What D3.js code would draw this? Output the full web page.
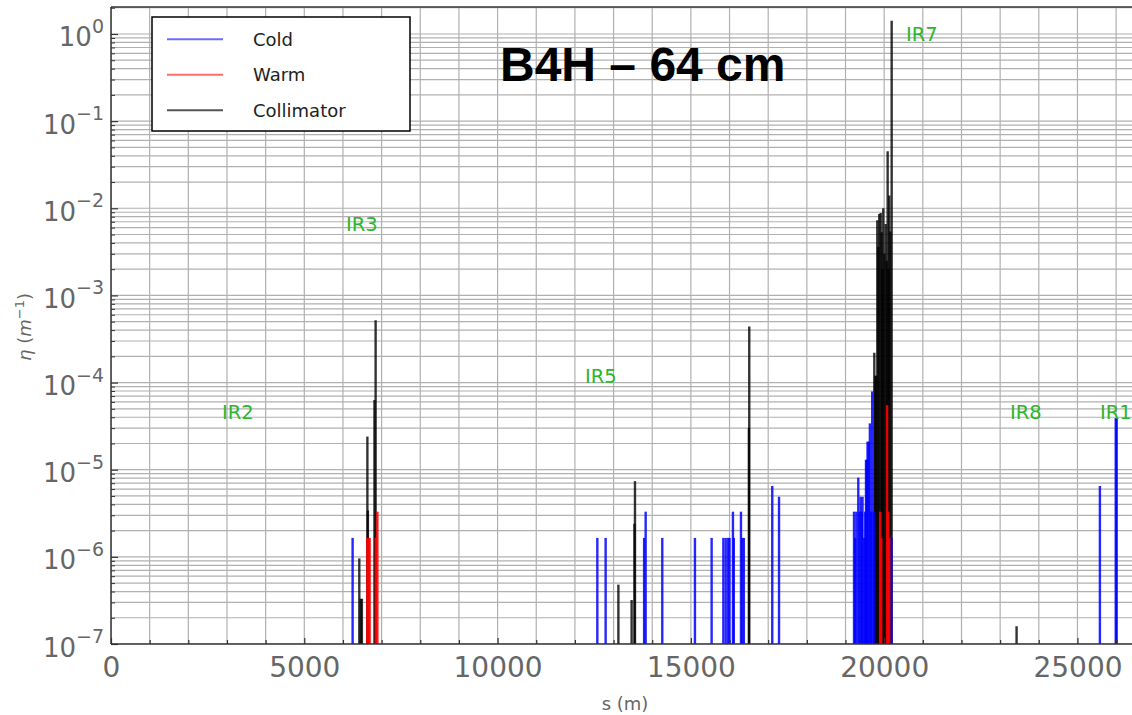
<!DOCTYPE html>
<html><head><meta charset="utf-8">
<script src="https://cdn.jsdelivr.net/npm/d3@7"></script>
<style>body{margin:0;background:#fff}svg{display:block}</style>
</head><body><svg id="c" width="1132" height="715"></svg>
<script>
// ---------------- data ----------------
const titleText = "B4H – 64 cm";
const legendItems = ["Cold", "Warm", "Collimator"];
const xMajorTicks = [0, 5000, 10000, 15000, 20000, 25000];
const yMajorExponents = [-7, -6, -5, -4, -3, -2, -1, 0];

// [s (m), eta (1/m)]
const coldBars = [
  [6250, 1.65e-6],
  [12580, 1.65e-6], [12795, 1.65e-6], [13790, 1.65e-6], [13830, 3.3e-6], [14260, 1.65e-6],
  [15105, 1.65e-6], [15537, 1.65e-6], [15840, 1.65e-6], [15900, 1.65e-6], [15960, 1.65e-6],
  [16000, 1.65e-6], [16088, 3.3e-6], [16110, 1.65e-6], [16296, 3.3e-6], [16330, 1.65e-6],
  [16370, 1.65e-6], [17105, 6.5e-6], [17280, 4.9e-6],
  [19220, 3.3e-6], [19250, 1.65e-6], [19280, 3.3e-6], [19330, 8.1e-6], [19360, 3.3e-6],
  [19390, 4.9e-6], [19420, 3.3e-6], [19440, 4.9e-6], [19480, 1.65e-6], [19510, 3.3e-6],
  [19530, 1.3e-5], [19550, 1.3e-5], [19570, 2.1e-5], [19600, 2.1e-5], [19630, 3.4e-5],
  [19660, 3.3e-6], [19690, 7.9e-5], [19730, 3.3e-6], [20190, 1.65e-6],
  [25580, 6.5e-6], [25990, 3.9e-5], [26015, 3.9e-5]
];
const warmBars = [
  [6630, 1.65e-6], [6660, 1.65e-6], [6690, 1.65e-6], [6850, 1.65e-6], [6890, 3.3e-6],
  [19895, 3.3e-6], [19925, 1.65e-6], [20075, 5.5e-5], [20105, 3.3e-6], [20130, 1.65e-6]
];
const collimatorBars = [
  [6423, 9.6e-7], [6460, 3.3e-7], [6490, 3.3e-7], [6632, 2.4e-5], [6645, 3.4e-6],
  [6815, 6.3e-5], [6845, 5.2e-4],
  [13125, 4.8e-7], [13467, 3.2e-7], [13540, 2.4e-6], [13554, 7.4e-6],
  [16500, 3.0e-5], [16510, 4.4e-4],
  [19745, 2.2e-4], [19770, 1.2e-4], [19795, 1.2e-4], [19822, 7.3e-3], [19850, 3.6e-3],
  [19873, 8.6e-3], [19910, 8.8e-3], [19935, 5.3e-3], [19955, 2.0e-3], [19977, 1.0e-2],
  [20005, 3.0e-3], [20039, 6.6e-3], [20065, 2.5e-3], [20090, 4.5e-2], [20112, 2.0e-3],
  [20132, 1.4e-2], [20160, 5.4e-3], [20194, 1.42],
  [23425, 1.6e-7]
];
const irLabels = [
  {name: "IR2", s: 2871, eta: 3.8e-5},
  {name: "IR3", s: 6078, eta: 5.5e-3},
  {name: "IR5", s: 12260, eta: 1.0e-4},
  {name: "IR7", s: 20565, eta: 0.82},
  {name: "IR8", s: 23254, eta: 3.8e-5},
  {name: "IR1", s: 25582, eta: 3.8e-5}
];

// ---------------- layout ----------------
const svg = d3.select("#c");
const L = 111, T = 7, B = 644, R = 1141.6;
const x = d3.scaleLinear().domain([0, 26659]).range([L, R]);
const y = d3.scaleLog().domain([1e-7, 2.04]).range([B, T]);
const tickColor = "#666";
const colors = {Cold: "#0000ff", Warm: "#ff0000", Collimator: "#000000"};

svg.append("defs").append("clipPath").attr("id", "clip")
  .append("rect").attr("x", L).attr("y", T).attr("width", 1132 - L).attr("height", B - T);

const plot = svg.append("g").attr("clip-path", "url(#clip)");

// grid
const xGridVals = d3.range(0, 27000, 1000);
const yGridVals = [];
yMajorExponents.forEach(e => { for (let k = 1; k <= 9; k++) { const v = k * Math.pow(10, e); if (v <= 2.04) yGridVals.push(v); } });
plot.append("g").selectAll("line").data(yGridVals).join("line")
  .attr("x1", L).attr("x2", R).attr("y1", d => y(d)).attr("y2", d => y(d))
  .attr("stroke", "#b0b0b0").attr("stroke-width", 1.2);
plot.append("g").selectAll("line").data(xGridVals).join("line")
  .attr("x1", d => x(d)).attr("x2", d => x(d)).attr("y1", T).attr("y2", B)
  .attr("stroke", "#b0b0b0").attr("stroke-width", 1.2);

// bars
function drawBars(data, color, opacity) {
  plot.append("g").selectAll("line").data(data).join("line")
    .attr("x1", d => x(d[0])).attr("x2", d => x(d[0]))
    .attr("y1", y(1e-7)).attr("y2", d => y(d[1]))
    .attr("stroke", color).attr("stroke-width", 2.4).attr("stroke-opacity", opacity);
}
drawBars(collimatorBars, colors.Collimator, 0.8);
drawBars(coldBars, colors.Cold, 0.85);
drawBars(warmBars, colors.Warm, 0.9);

// IR labels
plot.append("g").selectAll("text").data(irLabels).join("text")
  .attr("x", d => x(d.s)).attr("y", d => y(d.eta))
  .attr("fill", "#2db52d").attr("font-family", "DejaVu Sans").attr("font-size", 19.5)
  .text(d => d.name);

// axes: x
const xAxis = svg.append("g").attr("transform", `translate(0,${B})`)
  .call(d3.axisBottom(x).tickValues(xMajorTicks).tickSize(-6).tickPadding(0).tickFormat(d3.format("d")));
xAxis.select(".domain").remove();
xAxis.selectAll(".tick line").attr("stroke", "#333").attr("stroke-width", 1.2);
xAxis.selectAll(".tick text").attr("font-family", "DejaVu Sans").attr("font-size", 28)
  .attr("fill", tickColor).attr("dy", null).attr("y", 33);
const xMinor = svg.append("g").attr("transform", `translate(0,${B})`)
  .call(d3.axisBottom(x).tickValues(xGridVals.filter(v => v % 5000 !== 0)).tickSize(-4).tickFormat(""));
xMinor.select(".domain").remove();
xMinor.selectAll(".tick line").attr("stroke", "#333").attr("stroke-width", 1.2);

// axes: y
const yMajorVals = yMajorExponents.map(e => Math.pow(10, e));
const yAxis = svg.append("g").attr("transform", `translate(${L},0)`)
  .call(d3.axisLeft(y).tickValues(yMajorVals).tickSize(-7).tickFormat(""));
yAxis.select(".domain").remove();
yAxis.selectAll(".tick line").attr("stroke", "#333").attr("stroke-width", 1.2);
const yMinor = svg.append("g").attr("transform", `translate(${L},0)`)
  .call(d3.axisLeft(y).tickValues(yGridVals.filter(v => !yMajorVals.some(m => Math.abs(m - v) / v < 1e-9))).tickSize(-4).tickFormat(""));
yMinor.select(".domain").remove();
yMinor.selectAll(".tick line").attr("stroke", "#333").attr("stroke-width", 1);

const yLab = svg.append("g");
yMajorExponents.forEach(e => {
  const t = yLab.append("text").attr("x", 104).attr("y", y(Math.pow(10, e)) + 12.5)
    .attr("text-anchor", "end").attr("font-family", "DejaVu Sans").attr("fill", tickColor).attr("font-size", 26);
  t.append("tspan").text("10");
  t.append("tspan").attr("font-size", 19).attr("dy", -13.5).text(e === 0 ? "0" : "\u2212" + Math.abs(e));
});

// spines
svg.append("line").attr("x1", L).attr("x2", L).attr("y1", T).attr("y2", B).attr("stroke", "#333").attr("stroke-width", 1.5);
svg.append("line").attr("x1", L).attr("x2", 1132).attr("y1", B).attr("y2", B).attr("stroke", "#333").attr("stroke-width", 1.5);
svg.append("line").attr("x1", L).attr("x2", 1132).attr("y1", T).attr("y2", T).attr("stroke", "#333").attr("stroke-width", 1.5);

// axis labels
svg.append("text").attr("x", 625).attr("y", 710).attr("text-anchor", "middle")
  .attr("font-family", "DejaVu Sans").attr("font-size", 18).attr("fill", tickColor).text("s (m)");
const yl = svg.append("text").attr("transform", "translate(31,327) rotate(-90)").attr("text-anchor", "middle")
  .attr("font-family", "DejaVu Sans").attr("font-size", 18).attr("fill", tickColor);
yl.append("tspan").attr("font-style", "italic").text("η");
yl.append("tspan").text(" (");
yl.append("tspan").attr("font-style", "italic").text("m");
yl.append("tspan").attr("font-size", 13).attr("dy", -7).text("−1");
yl.append("tspan").attr("dy", 7).text(")");

// title
svg.append("text").attr("x", 500).attr("y", 81).attr("font-family", "Liberation Sans, Arial, sans-serif")
  .attr("font-weight", "bold").attr("font-size", 48).attr("fill", "#000").text(titleText);

// legend
const lg = svg.append("g");
lg.append("rect").attr("x", 152).attr("y", 17).attr("width", 258).attr("height", 114)
  .attr("fill", "#fff").attr("stroke", "#000").attr("stroke-width", 1.5);
const legendColors = ["#6b6bff", "#ff6b6b", "#555"];
legendItems.forEach((name, i) => {
  const yy = 39.3 + i * 35.5;
  lg.append("line").attr("x1", 167).attr("x2", 223).attr("y1", yy).attr("y2", yy)
    .attr("stroke", legendColors[i]).attr("stroke-width", 2);
  lg.append("text").attr("x", 253).attr("y", yy + 6.5).attr("font-family", "DejaVu Sans")
    .attr("font-size", 18).attr("fill", "#222").text(name);
});
</script></body></html>
